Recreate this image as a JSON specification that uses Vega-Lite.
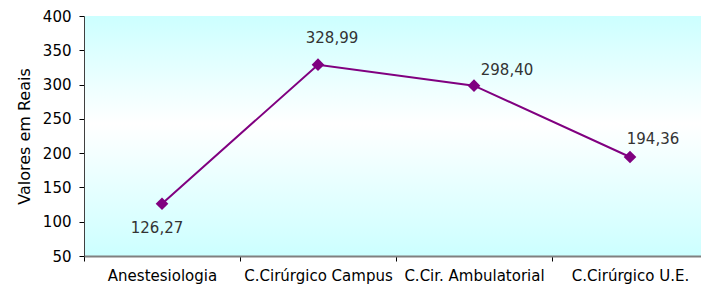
{
  "$schema": "https://vega.github.io/schema/vega-lite/v6.json",
  "width": 624,
  "height": 240,
  "autosize": {"type": "none"},
  "padding": {"left": 84, "top": 16, "right": 0, "bottom": 30},
  "background": "#ffffff",
  "config": {
    "font": "DejaVu Sans",
    "view": {
      "stroke": null,
      "fill": {
        "gradient": "linear",
        "x1": 0, "y1": 0, "x2": 0, "y2": 1,
        "stops": [
          {"offset": 0, "color": "#ccffff"},
          {"offset": 0.45, "color": "#ffffff"},
          {"offset": 1, "color": "#ccffff"}
        ]
      }
    },
    "axis": {
      "labelFont": "DejaVu Sans",
      "labelFontSize": 15,
      "labelColor": "#000000",
      "titleFont": "DejaVu Sans",
      "titleFontSize": 16,
      "titleFontWeight": "normal",
      "titleColor": "#000000",
      "grid": false
    }
  },
  "data": {
    "values": [
      {"setor": "Anestesiologia", "valor": 126.27, "rotulo": "126,27"},
      {"setor": "C.Cirúrgico Campus", "valor": 328.99, "rotulo": "328,99"},
      {"setor": "C.Cir. Ambulatorial", "valor": 298.40, "rotulo": "298,40"},
      {"setor": "C.Cirúrgico U.E.", "valor": 194.36, "rotulo": "194,36"}
    ]
  },
  "encoding": {
    "x": {
      "field": "setor",
      "type": "nominal",
      "sort": null,
      "scale": {"type": "band", "paddingInner": 0, "paddingOuter": 0},
      "axis": {
        "title": null,
        "labelAngle": 0,
        "labelPadding": 7,
        "tickBand": "extent",
        "tickSize": 5,
        "tickColor": "#000000",
        "domainColor": "#808080",
        "domainWidth": 2
      }
    },
    "y": {
      "field": "valor",
      "type": "quantitative",
      "scale": {"domain": [50, 400], "nice": false, "zero": false},
      "axis": {
        "title": "Valores em Reais",
        "values": [50, 100, 150, 200, 250, 300, 350, 400],
        "tickSize": 5,
        "tickColor": "#000000",
        "domainColor": "#404040",
        "labelPadding": 8,
        "titlePadding": 10
      }
    }
  },
  "layer": [
    {"mark": {"type": "line", "color": "#800080", "strokeWidth": 2}},
    {"mark": {"type": "point", "shape": "diamond", "filled": true, "color": "#800080", "size": 160, "opacity": 1}},
    {
      "transform": [{"filter": "datum.setor == 'Anestesiologia'"}],
      "mark": {"type": "text", "fontSize": 15, "color": "#333333", "dx": -5, "dy": 24},
      "encoding": {"text": {"field": "rotulo"}}
    },
    {
      "transform": [{"filter": "datum.setor == 'C.Cirúrgico Campus'"}],
      "mark": {"type": "text", "fontSize": 15, "color": "#333333", "dx": 14, "dy": -27},
      "encoding": {"text": {"field": "rotulo"}}
    },
    {
      "transform": [{"filter": "datum.setor == 'C.Cir. Ambulatorial'"}],
      "mark": {"type": "text", "fontSize": 15, "color": "#333333", "dx": 33, "dy": -16},
      "encoding": {"text": {"field": "rotulo"}}
    },
    {
      "transform": [{"filter": "datum.setor == 'C.Cirúrgico U.E.'"}],
      "mark": {"type": "text", "fontSize": 15, "color": "#333333", "dx": 23, "dy": -18},
      "encoding": {"text": {"field": "rotulo"}}
    }
  ]
}
